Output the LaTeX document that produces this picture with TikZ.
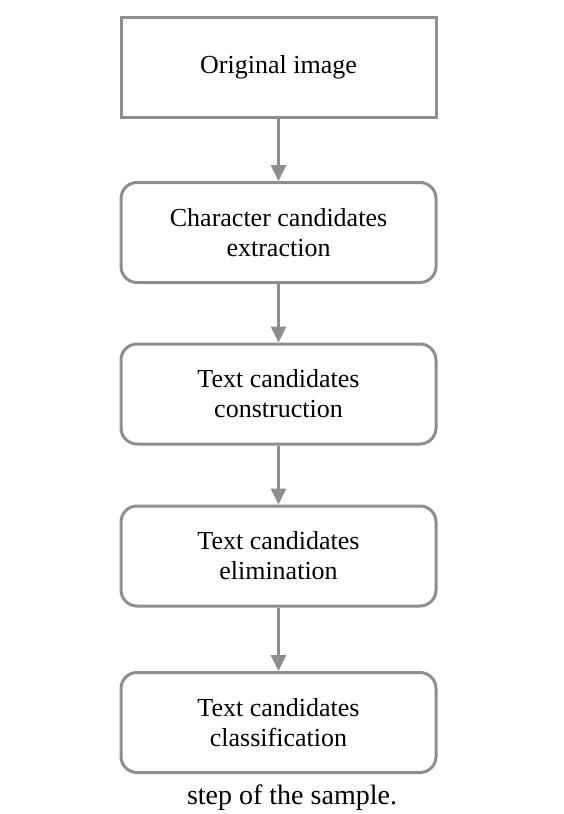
\documentclass[tikz,border=0pt]{standalone}
\usepackage{fontspec}
\setmainfont{Liberation Serif}
\usetikzlibrary{arrows.meta}
\definecolor{linea}{HTML}{8E8E8E}
\tikzset{
  caja/.style={draw=linea,line width=3pt,minimum width=315pt,minimum height=100pt,align=center,
    font=\fontsize{26}{30}\selectfont,inner sep=0pt,fill=white},
  cajar/.style={caja,rounded corners=16pt},
  flecha/.style={-{Triangle[length=16pt,width=15pt]},line width=3pt,color=linea},
  pie/.style={font=\fontsize{28}{34}\selectfont,anchor=base},
}
\begin{document}
\begin{tikzpicture}[x=1pt,y=-1pt]
  \useasboundingbox (0,0) rectangle (563,814);
  \node[caja] (orig) at (278.5,67) {Original image};
  \node[cajar] (carac) at (278.5,232.5) {Character candidates\\extraction};
  \node[cajar] (constr) at (278.5,394) {Text candidates\\construction};
  \node[cajar] (elim) at (278.5,556) {Text candidates\\elimination};
  \node[cajar] (clasif) at (278.5,722.5) {Text candidates\\classification};
  \node[pie] (titulo) at (292,804) {step of the sample.};
  \foreach \a/\b in {orig/carac,carac/constr,constr/elim,elim/clasif}
    \draw[flecha] (\a) -- (\b);
\end{tikzpicture}
\end{document}
